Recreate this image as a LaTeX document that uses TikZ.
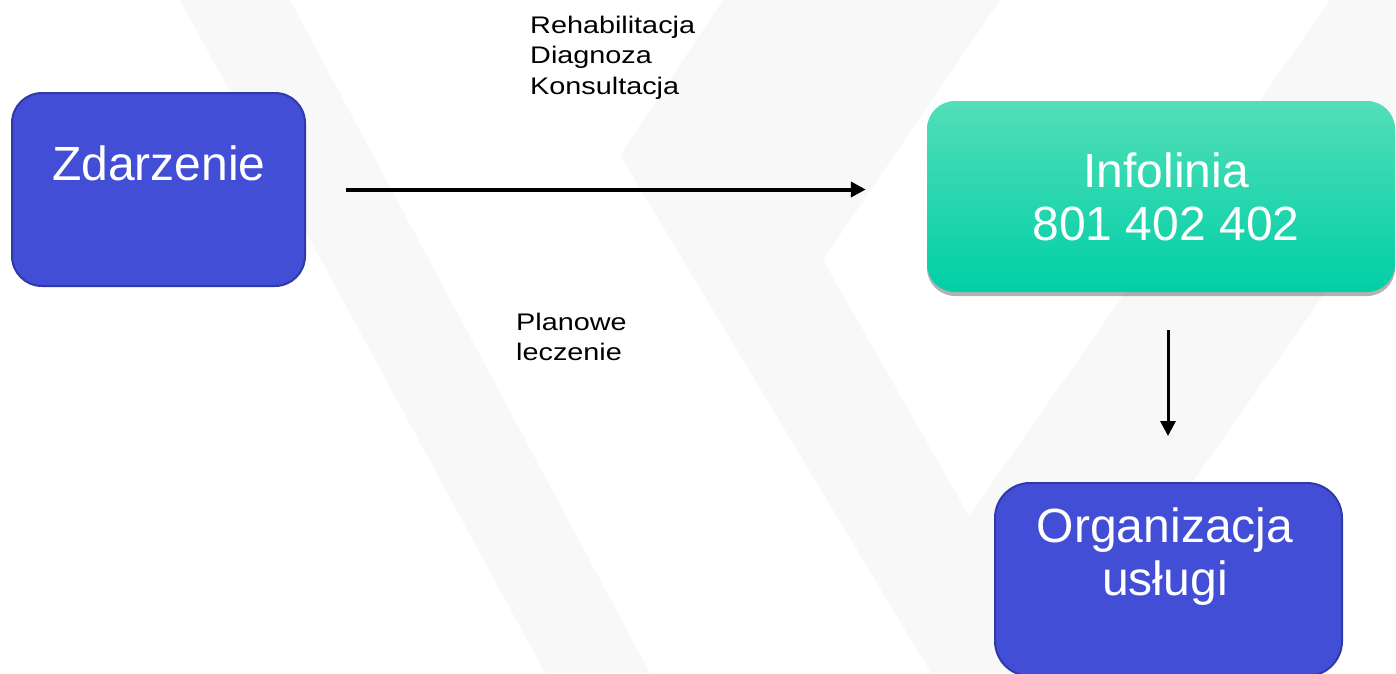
\documentclass[tikz,border=0pt]{standalone}
\usepackage{fontspec}
\setmainfont{Liberation Sans}
\newfontfamily\lblfont[FakeStretch=1.2]{Liberation Sans}
\usetikzlibrary{arrows.meta,shadows}
\definecolor{boxblue}{HTML}{434ED6}
\definecolor{boxborder}{HTML}{3039A8}
\definecolor{tealtop}{HTML}{52DEB8}
\definecolor{tealmid}{HTML}{00DAAE}
\definecolor{tealbot}{HTML}{00CFA6}
\definecolor{bgshape}{HTML}{F8F8F8}
\tikzset{
  bluebox/.style={draw=boxborder, line width=2pt, fill=boxblue, inner sep=0pt},
  tealbox/.style={inner sep=0pt, top color=tealtop, middle color=tealmid, bottom color=tealbot,
    drop shadow={shadow xshift=0pt, shadow yshift=-4pt, opacity=.3, fill=black}},
  bigtext/.style={text=white, inner sep=0pt, align=center, font=\fontsize{48}{53}\selectfont},
  smalltext/.style={text=black, inner sep=0pt, align=left, font=\lblfont\fontsize{24}{30.5}\selectfont, anchor=north west},
  harrow/.style={line width=4pt, -{Triangle[length=15pt,width=15pt]}},
  varrow/.style={line width=3pt, -{Triangle[length=15pt,width=15pt]}}
}
\begin{document}
\begin{tikzpicture}[x=1pt,y=-1pt]
\useasboundingbox (0,0) rectangle (1396,673);
% background decoration
\fill[bgshape] (180,0) -- (290,0) -- (650,673) -- (545,673) -- cycle;
\fill[bgshape] (723,0) -- (620,155) -- (931,673) -- (1059,673) -- (1530,0) -- (1330,0) -- (969,516) -- (823,260) -- (1000,0) -- cycle;
% boxes
\node[bluebox, minimum width=293pt, minimum height=193pt, rounded corners=30pt] (zd) at (158.5,189.5) {};
\node[tealbox, minimum width=468pt, minimum height=191pt, rounded corners=28pt] (info) at (1161,196.5) {};
\node[bluebox, minimum width=347pt, minimum height=193pt, rounded corners=35pt] (org) at (1168.5,579.5) {};
% box texts
\node[bigtext, anchor=base] (zdt) at (159,180) {Zdarzenie};
\node[bigtext] (infot) at (1166,196.5) {Infolinia\\801 402 402};
\node[bigtext] (orgt) at (1165,557) {Organizacja\\usługi};
% labels
\node[smalltext] (lab1) at (530,15.5) {Rehabilitacja\\Diagnoza\\Konsultacja};
\node[smalltext] (lab2) at (516,312.5) {Planowe\\leczenie};
% connectors
\draw[harrow, shorten <=40pt, shorten >=61pt] (zd.east) -- (zd.east -| info.west);
\draw[varrow, shorten <=38pt, shorten >=46pt] ([xshift=7pt]info.south) -- ([xshift=7pt]info.south |- org.north);
\end{tikzpicture}
\end{document}
